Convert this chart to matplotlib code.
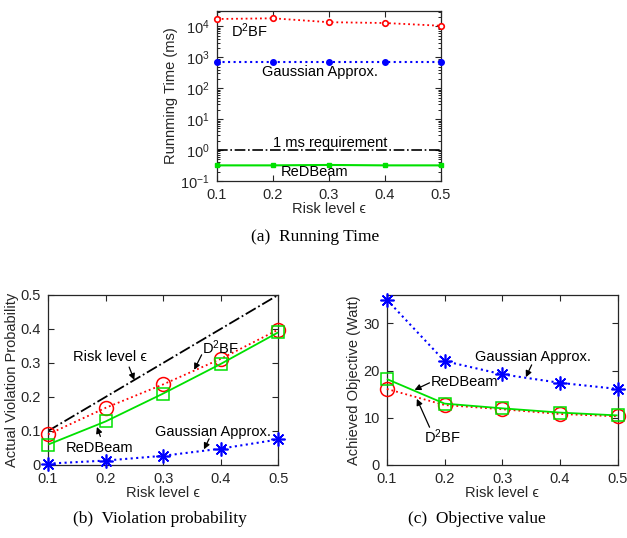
import numpy as np
import matplotlib
matplotlib.use('Agg')
import matplotlib.pyplot as plt
from matplotlib.ticker import FormatStrFormatter

plt.rcParams['font.family'] = ['Liberation Sans', 'DejaVu Sans']
plt.rcParams['mathtext.fontset'] = 'custom'
plt.rcParams['mathtext.rm'] = 'Liberation Sans'
plt.rcParams['mathtext.it'] = 'Liberation Sans:italic'
plt.rcParams['font.size'] = 10.5
plt.rcParams['xtick.direction'] = 'in'
plt.rcParams['ytick.direction'] = 'in'
plt.rcParams['xtick.top'] = True
plt.rcParams['ytick.right'] = True
plt.rcParams['lines.solid_capstyle'] = 'butt'

risk = [0.1, 0.2, 0.3, 0.4, 0.5]

# (a) running time in ms
time_d2bf = [17400, 18300, 13700, 12900, 10500]
time_gauss = [710, 710, 710, 710, 710]
time_redbeam = [0.32, 0.32, 0.33, 0.32, 0.32]
time_req = [1, 1, 1, 1, 1]

# (b) actual violation probability
viol_d2bf = [0.090, 0.168, 0.237, 0.312, 0.398]
viol_redbeam = [0.060, 0.128, 0.210, 0.297, 0.390]
viol_gauss = [0.004, 0.013, 0.027, 0.048, 0.075]

# (c) achieved objective (Watt)
obj_gauss = [35.0, 22.0, 19.2, 17.4, 16.1]
obj_redbeam = [18.2, 13.0, 12.0, 11.1, 10.5]
obj_d2bf = [16.1, 12.7, 11.8, 10.8, 10.3]

dark = '#262626'
red, blue, green = '#ff0000', '#0000ff', '#00e000'
eps_label = 'Risk level ϵ'

fig = plt.figure(figsize=(6.27, 5.38), dpi=100)


def style(ax):
    for s in ax.spines.values():
        s.set_color(dark)
        s.set_linewidth(0.9)
    ax.tick_params(colors=dark, labelsize=10.5, length=4, width=0.8, pad=5)
    ax.tick_params(which='minor', length=2, width=0.6)
    ax.set_xlim(0.1, 0.5)
    ax.set_xticks(risk)
    ax.xaxis.set_major_formatter(FormatStrFormatter('%g'))
    ax.set_xlabel(eps_label, color=dark, labelpad=0)


def arrow(ax, tail, head):
    ax.annotate('', xy=head, xytext=tail,
                arrowprops=dict(arrowstyle='-|>', color='k', lw=0.9,
                                mutation_scale=9, shrinkA=0, shrinkB=0))


# ---- (a) ----
ax = fig.add_axes([0.346, 0.6636, 0.357, 0.316])
ax.set_yscale('log')
ax.plot(risk, time_d2bf, ':', color=red, lw=1.3, marker='o', ms=4,
        mfc='white', mec=red, mew=1.2, clip_on=False, zorder=3)
ax.plot(risk, time_gauss, ':', color=blue, lw=1.5, marker='o', ms=4,
        mfc=blue, mec=blue, clip_on=False, zorder=3)
ax.plot(risk, time_req, '-.', color='k', lw=1.2)
ax.plot(risk, time_redbeam, '-', color=green, lw=1.5, marker='s', ms=3.5,
        mfc=green, mec=green, clip_on=False, zorder=3)
ax.set_ylim(0.1, 3.16e4)
ax.set_yticks([0.1, 1, 10, 100, 1000, 10000])
style(ax)
ax.set_ylabel('Runnming Time (ms)', color=dark, labelpad=2)
ax.text(0.159, 7.1e3, 'D$^2$BF', ha='center', va='center')
ax.text(0.284, 340, 'Gaussian Approx.', ha='center', va='center')
ax.text(0.302, 1.02, '1 ms requirement', ha='center', va='bottom')
ax.text(0.275, 0.19, 'ReDBeam', ha='center', va='center')

# ---- (b) ----
ax = fig.add_axes([0.0766, 0.1357, 0.367, 0.316])
ax.plot(risk, risk, '-.', color='k', lw=1.3)
ax.plot(risk, viol_d2bf, ':', color=red, lw=1.3, marker='o', ms=10,
        mfc='none', mec=red, mew=1.1, clip_on=False, zorder=3)
ax.plot(risk, viol_redbeam, '-', color=green, lw=1.3, marker='s', ms=9,
        mfc='none', mec=green, mew=1.1, clip_on=False, zorder=3)
ax.plot(risk, viol_gauss, ':', color=blue, lw=1.5, marker=(8, 2, 0), ms=10,
        mec=blue, mew=1.2, clip_on=False, zorder=3)
ax.set_ylim(0, 0.5)
ax.set_yticks([0, 0.1, 0.2, 0.3, 0.4, 0.5])
ax.yaxis.set_major_formatter(FormatStrFormatter('%g'))
style(ax)
ax.set_ylabel('Actual Violation Probability', color=dark, labelpad=1)
ax.text(0.208, 0.318, eps_label, ha='center', va='center')
arrow(ax, (0.241, 0.288), (0.250, 0.250))
ax.text(0.399, 0.344, 'D$^2$BF', ha='center', va='center')
arrow(ax, (0.367, 0.324), (0.354, 0.280))
ax.text(0.190, 0.050, 'ReDBeam', ha='center', va='center')
arrow(ax, (0.191, 0.084), (0.185, 0.112))
ax.text(0.387, 0.097, 'Gaussian Approx.', ha='center', va='center')
arrow(ax, (0.380, 0.077), (0.371, 0.046))

# ---- (c) ----
ax = fig.add_axes([0.617, 0.1357, 0.368, 0.316])
ax.plot(risk, obj_gauss, ':', color=blue, lw=1.5, marker=(8, 2, 0), ms=10,
        mec=blue, mew=1.2, clip_on=False, zorder=3)
ax.plot(risk, obj_d2bf, ':', color=red, lw=1.3, marker='o', ms=10,
        mfc='none', mec=red, mew=1.1, clip_on=False, zorder=3)
ax.plot(risk, obj_redbeam, '-', color=green, lw=1.3, marker='s', ms=9,
        mfc='none', mec=green, mew=1.1, clip_on=False, zorder=3)
ax.set_ylim(0, 36)
ax.set_yticks([0, 10, 20, 30])
style(ax)
ax.set_ylabel('Achieved Objective (Watt)', color=dark, labelpad=2)
ax.text(0.353, 22.9, 'Gaussian Approx.', ha='center', va='center')
arrow(ax, (0.351, 21.2), (0.341, 18.6))
ax.text(0.176, 17.6, 'ReDBeam', ha='left', va='center')
arrow(ax, (0.174, 17.4), (0.148, 15.9))
ax.text(0.197, 5.9, 'D$^2$BF', ha='center', va='center')
arrow(ax, (0.174, 8.0), (0.152, 14.0))

# captions
cap = dict(family=['Liberation Serif', 'DejaVu Serif'], fontsize=12.5,
           ha='center', va='center')
fig.text(315 / 627, 1 - 237 / 538, '(a)  Running Time', **cap)
fig.text(160 / 627, 1 - 519 / 538, '(b)  Violation probability', **cap)
fig.text(477 / 627, 1 - 519 / 538, '(c)  Objective value', **cap)

fig.savefig('out.png', dpi=100)
